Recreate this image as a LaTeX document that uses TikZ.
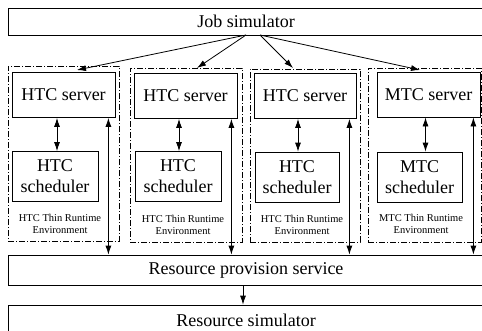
\documentclass[tikz,border=0pt]{standalone}
\usepackage{fontspec}
\setmainfont{Liberation Serif}
\usetikzlibrary{arrows.meta}
\begin{document}
\begin{tikzpicture}[x=1pt,y=-1pt,
  line width=0.8pt,
  box/.style={draw, rectangle, inner sep=0pt, align=center,
    font=\fontsize{18}{21}\selectfont},
  wide/.style={box, minimum width=476pt, minimum height=28pt},
  srv/.style={box, minimum width=103pt, minimum height=45pt},
  sch/.style={box, minimum width=85pt, minimum height=50pt},
  env/.style={draw, dash pattern=on 6pt off 2pt on 1pt off 2pt, rectangle,
    inner sep=0pt, line width=0.7pt},
  lbl/.style={align=center, inner sep=0pt,
    font=\fontsize{10.5}{12}\selectfont},
  arr/.style={-{Latex[length=9pt,width=6pt]}},
  dbl/.style={{Latex[length=9pt,width=6pt]}-{Latex[length=9pt,width=6pt]}}]
\useasboundingbox (0,0) rectangle (482,330);

% top and bottom services
\node[wide, minimum height=27pt] (job) at (246,21.5) {Job simulator};
\node[wide, minimum height=30pt] (rps) at (246,270) {Resource provision service};
\node[wide, minimum height=30pt] (rsim) at (246,320) {Resource simulator};

% thin runtime environments
\node[env, minimum width=111pt, minimum height=175pt] (g1) at (63.5,153.5) {};
\node[env, minimum width=112pt, minimum height=174pt] (g2) at (186,155) {};
\node[env, minimum width=110pt, minimum height=173pt] (g3) at (305,155.5) {};
\node[env, minimum width=113pt, minimum height=174pt] (g4) at (424.5,155) {};

% servers
\node[srv] (s1) at (63.5,95) {HTC server};
\node[srv] (s2) at (185.5,96) {HTC server};
\node[srv, minimum width=102pt] (s3) at (305,96) {HTC server};
\node[srv] (s4) at (428.5,94.5) {MTC server};

% schedulers
\node[sch, minimum width=86pt] (c1) at (55,176.5) {HTC\\scheduler};
\node[sch, minimum width=86pt] (c2) at (178,176.5) {HTC\\scheduler};
\node[sch, minimum width=84pt] (c3) at (297,177) {HTC\\scheduler};
\node[sch] (c4) at (419.5,177) {MTC\\scheduler};

% environment labels
\node[lbl] (e1) at (60,224) {HTC Thin Runtime\\Environment};
\node[lbl] (e2) at (183,225) {HTC Thin Runtime\\Environment};
\node[lbl] (e3) at (302,225) {HTC Thin Runtime\\Environment};
\node[lbl] (e4) at (421,224) {MTC Thin Runtime\\Environment};

% job dispatch
\coordinate (ja) at (246,35);
\coordinate (jb) at (260,35);
\coordinate (t1) at (77,70);
\coordinate (t2) at (197,68);
\coordinate (t3) at (293,68);
\coordinate (t4) at (420,70);
\draw[arr] (ja) -- (t1);
\draw[arr] (ja) -- (t2);
\draw[arr] (jb) -- (t3);
\draw[arr] (jb) -- (t4);

% server <-> scheduler
\coordinate (b1) at ([xshift=2pt]c1.north);
\coordinate (b2) at ([xshift=1pt]c2.north);
\coordinate (b3) at ([xshift=1pt]c3.north);
\coordinate (b4) at ([xshift=6pt]c4.north);
\draw[dbl] (b1 |- s1.south) -- (b1);
\draw[dbl] (b2 |- s2.south) -- (b2);
\draw[dbl] (b3 |- s3.south) -- (b3);
\draw[dbl] (b4 |- s4.south) -- (b4);

% server <-> resource provision
\coordinate (l1) at ([xshift=-7pt]s1.south east);
\coordinate (l2) at ([xshift=-6pt]s2.south east);
\coordinate (l3) at ([xshift=-7pt]s3.south east);
\coordinate (l4) at ([xshift=-7pt]s4.south east);
\draw[dbl] (l1) -- (l1 |- rps.north);
\draw[dbl] (l2) -- (l2 |- rps.north);
\draw[dbl] (l3) -- (l3 |- rps.north);
\draw[dbl] (l4) -- (l4 |- rps.north);

% provision -> simulator
\draw[arr] ([xshift=-3pt]rps.south) -- ([xshift=-3pt]rsim.north);
\end{tikzpicture}
\end{document}
